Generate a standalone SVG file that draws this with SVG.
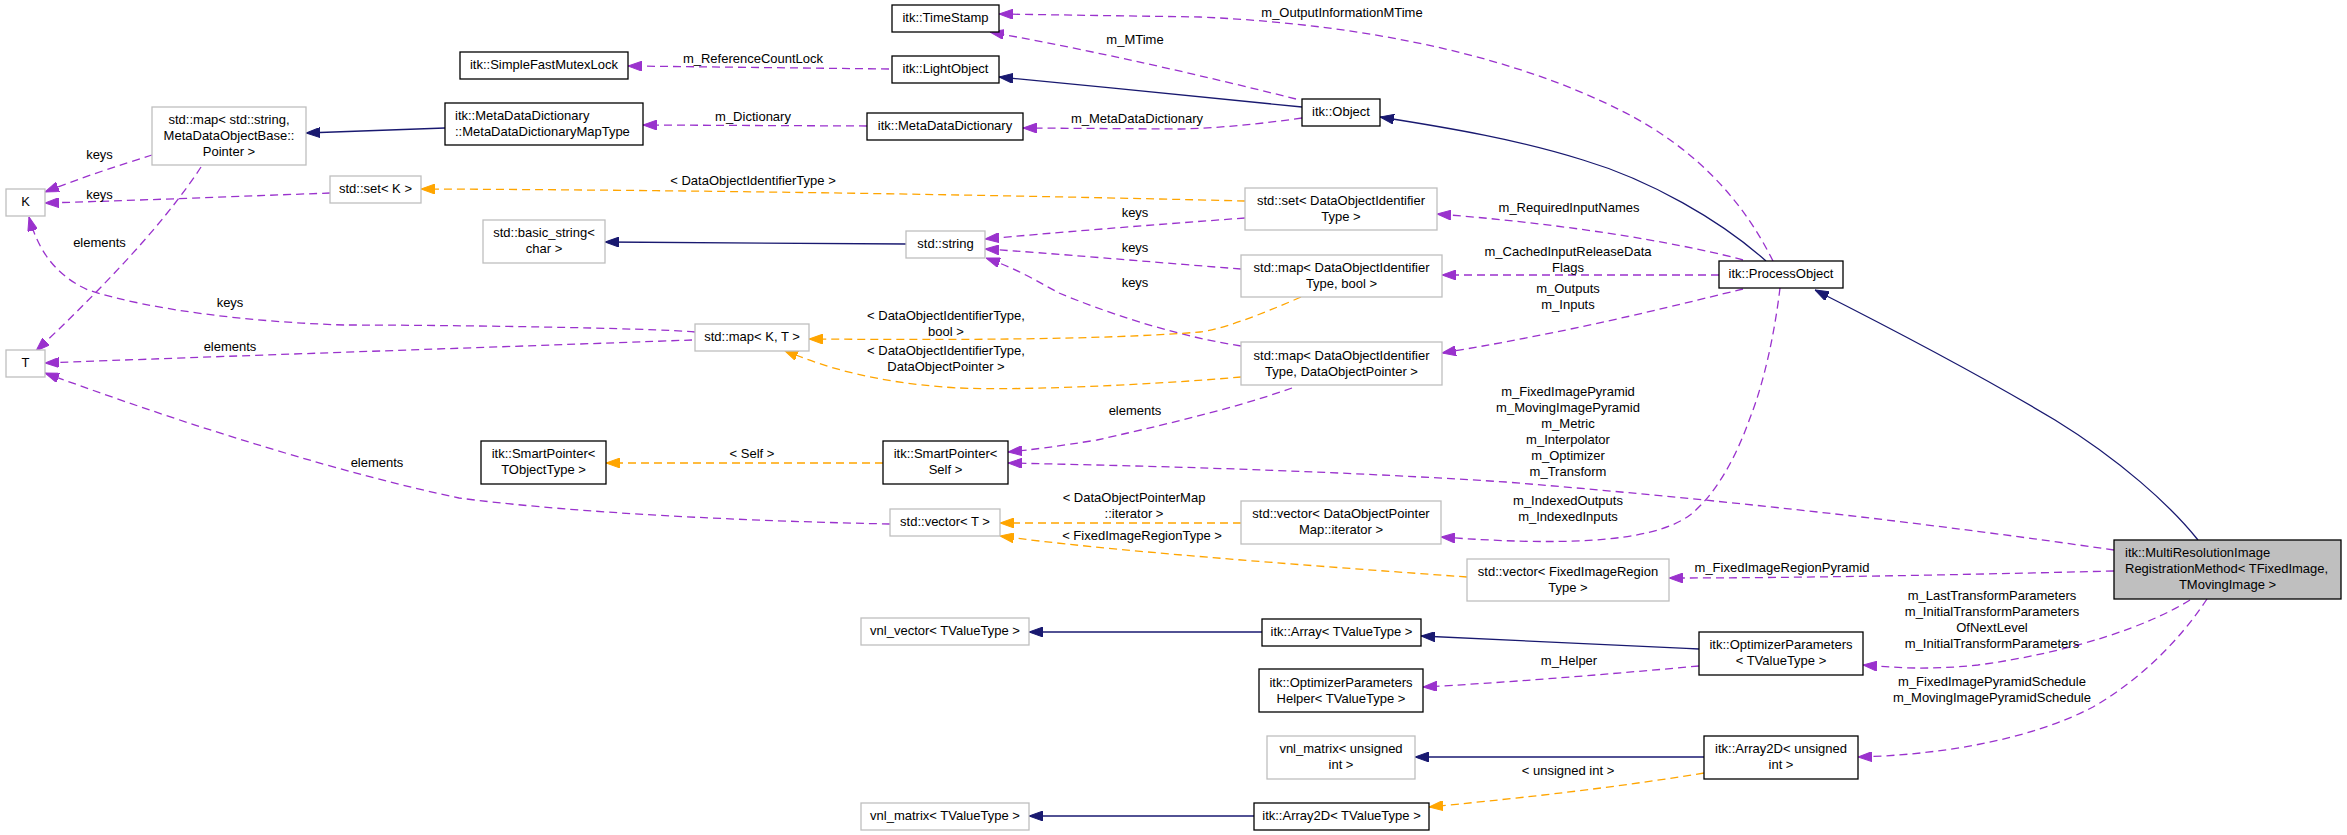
<svg xmlns="http://www.w3.org/2000/svg" width="2347" height="835" viewBox="0 0 2347 835">
<style>
text{font-family:"Liberation Sans",Arial,sans-serif;font-size:13px;fill:#000}
.c{text-anchor:middle}
.nb{fill:#fff;stroke:#000;stroke-width:1.3}
.ng{fill:#fff;stroke:#bfbfbf;stroke-width:1.3}
.nm{fill:#bfbfbf;stroke:#000;stroke-width:1.3}
.u{fill:none;stroke:#9a32cd;stroke-width:1.3;stroke-dasharray:8,5;marker-end:url(#ap)}
.t{fill:none;stroke:#ffa500;stroke-width:1.3;stroke-dasharray:8,5;marker-end:url(#ao)}
.i{fill:none;stroke:#191970;stroke-width:1.3;marker-end:url(#an)}
</style>
<defs>
<marker id="ap" markerUnits="userSpaceOnUse" viewBox="0 0 14 10" refX="14" refY="5" markerWidth="14" markerHeight="10" orient="auto"><path d="M0,0 L14,5 L0,10 z" fill="#9a32cd" stroke="#9a32cd" stroke-dasharray="none"/></marker>
<marker id="ao" markerUnits="userSpaceOnUse" viewBox="0 0 14 10" refX="14" refY="5" markerWidth="14" markerHeight="10" orient="auto"><path d="M0,0 L14,5 L0,10 z" fill="#ffa500" stroke="#ffa500" stroke-dasharray="none"/></marker>
<marker id="an" markerUnits="userSpaceOnUse" viewBox="0 0 14 10" refX="14" refY="5" markerWidth="14" markerHeight="10" orient="auto"><path d="M0,0 L14,5 L0,10 z" fill="#191970" stroke="#191970"/></marker>
</defs>
<rect width="2347" height="835" fill="#fff"/>
<g id="connectors">
<path class="u" d="M889,69 L628,66"/>
<text class="c" x="753" y="63">m_ReferenceCountLock</text>
<path class="u" d="M1296,99 C1200,75 1100,52 990,32"/>
<text class="c" x="1135" y="44">m_MTime</text>
<path class="u" d="M1773,261 C1745,205 1700,150 1620,110 C1520,60 1380,25 1200,17 L999,14"/>
<text class="c" x="1342" y="17">m_OutputInformationMTime</text>
<path class="i" d="M1302,107 C1250,101 1100,87 999,77"/>
<path class="u" d="M1302,118 C1260,124 1220,128 1180,129 L1023,128"/>
<text class="c" x="1137" y="123">m_MetaDataDictionary</text>
<path class="u" d="M867,126 L643,125"/>
<text class="c" x="753" y="121">m_Dictionary</text>
<path class="i" d="M445,128 L306,133"/>
<path class="u" d="M152,155 C120,165 80,178 45,192"/>
<text class="c" x="99.5" y="159">keys</text>
<path class="u" d="M330,193 C250,196 120,201 45,203"/>
<text class="c" x="99.5" y="199">keys</text>
<path class="u" d="M201,167 C160,230 90,300 36,351"/>
<text class="c" x="99.5" y="247">elements</text>
<path class="u" d="M695,332 C650,328 450,325 344,325 C250,322 150,310 88,290 C55,275 38,250 29,217"/>
<text class="c" x="230" y="307">keys</text>
<path class="u" d="M692,340 C500,347 200,357 45,363"/>
<text class="c" x="230" y="351">elements</text>
<path class="u" d="M890,524 C700,520 550,510 459,498 C350,475 200,430 45,373"/>
<text class="c" x="377" y="467">elements</text>
<path class="t" d="M883,463 L606,463"/>
<text class="c" x="752" y="458">&lt; Self &gt;</text>
<path class="t" d="M1245,201 C1000,195 700,190 421,189"/>
<text class="c" x="753" y="185">&lt; DataObjectIdentifierType &gt;</text>
<path class="u" d="M1245,218 C1150,225 1050,233 985,239"/>
<text class="c" x="1135" y="217">keys</text>
<path class="u" d="M1241,269 C1150,262 1050,253 985,249"/>
<text class="c" x="1135" y="252">keys</text>
<path class="u" d="M1241,346 C1170,335 1100,310 1059,293 C1040,283 1020,270 986,258"/>
<text class="c" x="1135" y="287">keys</text>
<path class="t" d="M1301,297 C1260,315 1220,330 1200,332 C1100,340 950,340 809,339"/>
<text class="c" x="946" y="320">&lt; DataObjectIdentifierType,</text>
<text class="c" x="946" y="336">bool &gt;</text>
<path class="t" d="M1241,377 C1150,385 1000,392 944,387 C880,382 830,370 784,350"/>
<text class="c" x="946" y="355">&lt; DataObjectIdentifierType,</text>
<text class="c" x="946" y="371">DataObjectPointer &gt;</text>
<path class="u" d="M1292,388 C1230,410 1150,428 1097,440 C1060,446 1030,450 1008,452"/>
<text class="c" x="1135" y="415">elements</text>
<path class="u" d="M1743,260 C1697,247 1583,225 1437,214"/>
<text class="c" x="1569" y="212">m_RequiredInputNames</text>
<path class="u" d="M1719,275 L1442,275"/>
<text class="c" x="1568" y="256">m_CachedInputReleaseData</text>
<text class="c" x="1568" y="272">Flags</text>
<path class="u" d="M1743,289 C1697,300 1583,330 1442,353"/>
<text class="c" x="1568" y="293">m_Outputs</text>
<text class="c" x="1568" y="309">m_Inputs</text>
<path class="i" d="M1766,261 C1720,220 1650,180 1583,160 C1520,140 1450,128 1380,117"/>
<path class="i" d="M2198,540 C2170,505 2120,460 2055,420 C1980,375 1900,333 1815,290"/>
<path class="u" d="M1780,288 C1775,330 1765,380 1750,418 C1735,460 1715,495 1690,515 C1650,545 1550,545 1441,537"/>
<text class="c" x="1568" y="505">m_IndexedOutputs</text>
<text class="c" x="1568" y="521">m_IndexedInputs</text>
<path class="u" d="M2114,550 C1940,525 1750,502 1506,482 C1350,472 1200,467 1008,463"/>
<text class="c" x="1568" y="396">m_FixedImagePyramid</text>
<text class="c" x="1568" y="412">m_MovingImagePyramid</text>
<text class="c" x="1568" y="428">m_Metric</text>
<text class="c" x="1568" y="444">m_Interpolator</text>
<text class="c" x="1568" y="460">m_Optimizer</text>
<text class="c" x="1568" y="476">m_Transform</text>
<path class="t" d="M1241,523 L1000,523"/>
<text class="c" x="1134" y="502">&lt; DataObjectPointerMap</text>
<text class="c" x="1134" y="518">::iterator &gt;</text>
<path class="t" d="M1467,577 C1300,565 1100,550 1000,536"/>
<text class="c" x="1142" y="540">&lt; FixedImageRegionType &gt;</text>
<path class="u" d="M2114,571 C1950,575 1800,578 1669,578"/>
<text class="c" x="1782" y="572">m_FixedImageRegionPyramid</text>
<path class="i" d="M1699,649 C1600,644 1500,640 1421,636"/>
<path class="i" d="M1262,632 L1029,632"/>
<path class="u" d="M1699,666 C1600,675 1500,683 1423,687"/>
<text class="c" x="1569" y="665">m_Helper</text>
<path class="u" d="M2190,600 C2150,625 2074,652 1978,665 C1930,670 1900,668 1863,665"/>
<text class="c" x="1992" y="600">m_LastTransformParameters</text>
<text class="c" x="1992" y="616">m_InitialTransformParameters</text>
<text class="c" x="1992" y="632">OfNextLevel</text>
<text class="c" x="1992" y="648">m_InitialTransformParameters</text>
<path class="u" d="M2207,599 C2180,640 2140,680 2093,707 C2030,740 1940,755 1858,757"/>
<text class="c" x="1992" y="686">m_FixedImagePyramidSchedule</text>
<text class="c" x="1992" y="702">m_MovingImagePyramidSchedule</text>
<path class="i" d="M1704,757 L1415,757"/>
<path class="t" d="M1704,773 C1600,790 1500,800 1429,807"/>
<text class="c" x="1568" y="775">&lt; unsigned int &gt;</text>
<path class="i" d="M1254,816 L1029,816"/>
<path class="i" d="M906,244 L605,242"/>
</g>
<g id="n_mr"><rect class="nm" x="2114" y="540" width="227" height="59"/><text x="2125" y="557">itk::MultiResolutionImage</text><text x="2125" y="573">RegistrationMethod&lt; TFixedImage,</text><text class="c" x="2227.5" y="589">TMovingImage &gt;</text></g>
<g id="n_po"><rect class="nb" x="1719" y="261" width="124" height="27"/><text class="c" x="1781" y="278">itk::ProcessObject</text></g>
<g id="n_obj"><rect class="nb" x="1302" y="99" width="78" height="27"/><text class="c" x="1341" y="116">itk::Object</text></g>
<g id="n_lo"><rect class="nb" x="892" y="56" width="107" height="27"/><text class="c" x="945.5" y="73">itk::LightObject</text></g>
<g id="n_ts"><rect class="nb" x="892" y="5" width="107" height="27"/><text class="c" x="945.5" y="22">itk::TimeStamp</text></g>
<g id="n_sfml"><rect class="nb" x="460" y="52" width="168" height="27"/><text class="c" x="544" y="69">itk::SimpleFastMutexLock</text></g>
<g id="n_mdd"><rect class="nb" x="867" y="113" width="156" height="27"/><text class="c" x="945" y="130">itk::MetaDataDictionary</text></g>
<g id="n_mddmt"><rect class="nb" x="445" y="103" width="198" height="42"/><text x="455" y="120">itk::MetaDataDictionary</text><text x="455" y="136">::MetaDataDictionaryMapType</text></g>
<g id="n_mapstr"><rect class="ng" x="152" y="107" width="154" height="58"/><text class="c" x="229" y="124">std::map&lt; std::string,</text><text class="c" x="229" y="140">MetaDataObjectBase::</text><text class="c" x="229" y="156">Pointer &gt;</text></g>
<g id="n_K"><rect class="ng" x="6" y="189" width="39" height="27"/><text class="c" x="25.5" y="206">K</text></g>
<g id="n_T"><rect class="ng" x="6" y="350" width="39" height="27"/><text class="c" x="25.5" y="367">T</text></g>
<g id="n_setK"><rect class="ng" x="330" y="176" width="91" height="27"/><text class="c" x="375.5" y="193">std::set&lt; K &gt;</text></g>
<g id="n_bstr"><rect class="ng" x="483" y="220" width="122" height="43"/><text class="c" x="544" y="237">std::basic_string&lt;</text><text class="c" x="544" y="253">char &gt;</text></g>
<g id="n_str"><rect class="ng" x="906" y="231" width="79" height="27"/><text class="c" x="945.5" y="248">std::string</text></g>
<g id="n_mapKT"><rect class="ng" x="695" y="324" width="114" height="27"/><text class="c" x="752" y="341">std::map&lt; K, T &gt;</text></g>
<g id="n_setDOIT"><rect class="ng" x="1245" y="188" width="192" height="42"/><text class="c" x="1341" y="205">std::set&lt; DataObjectIdentifier</text><text class="c" x="1341" y="221">Type &gt;</text></g>
<g id="n_mapbool"><rect class="ng" x="1241" y="255" width="201" height="42"/><text class="c" x="1341.5" y="272">std::map&lt; DataObjectIdentifier</text><text class="c" x="1341.5" y="288">Type, bool &gt;</text></g>
<g id="n_mapdop"><rect class="ng" x="1241" y="342" width="201" height="43"/><text class="c" x="1341.5" y="360">std::map&lt; DataObjectIdentifier</text><text class="c" x="1341.5" y="376">Type, DataObjectPointer &gt;</text></g>
<g id="n_spT"><rect class="nb" x="481" y="441" width="125" height="43"/><text class="c" x="543.5" y="458">itk::SmartPointer&lt;</text><text class="c" x="543.5" y="474">TObjectType &gt;</text></g>
<g id="n_spS"><rect class="nb" x="883" y="441" width="125" height="43"/><text class="c" x="945.5" y="458">itk::SmartPointer&lt;</text><text class="c" x="945.5" y="474">Self &gt;</text></g>
<g id="n_vecT"><rect class="ng" x="890" y="509" width="110" height="27"/><text class="c" x="945" y="526">std::vector&lt; T &gt;</text></g>
<g id="n_vecdop"><rect class="ng" x="1241" y="501" width="200" height="43"/><text class="c" x="1341" y="518">std::vector&lt; DataObjectPointer</text><text class="c" x="1341" y="534">Map::iterator &gt;</text></g>
<g id="n_vecfir"><rect class="ng" x="1467" y="559" width="202" height="42"/><text class="c" x="1568" y="576">std::vector&lt; FixedImageRegion</text><text class="c" x="1568" y="592">Type &gt;</text></g>
<g id="n_vnlvec"><rect class="ng" x="861" y="618" width="168" height="27"/><text class="c" x="945" y="635">vnl_vector&lt; TValueType &gt;</text></g>
<g id="n_arr"><rect class="nb" x="1262" y="619" width="159" height="27"/><text class="c" x="1341.5" y="636">itk::Array&lt; TValueType &gt;</text></g>
<g id="n_op"><rect class="nb" x="1699" y="632" width="164" height="43"/><text class="c" x="1781" y="649">itk::OptimizerParameters</text><text class="c" x="1781" y="665">&lt; TValueType &gt;</text></g>
<g id="n_oph"><rect class="nb" x="1259" y="669" width="164" height="43"/><text class="c" x="1341" y="687">itk::OptimizerParameters</text><text class="c" x="1341" y="703">Helper&lt; TValueType &gt;</text></g>
<g id="n_vnlmu"><rect class="ng" x="1267" y="736" width="148" height="43"/><text class="c" x="1341" y="753">vnl_matrix&lt; unsigned</text><text class="c" x="1341" y="769">int &gt;</text></g>
<g id="n_a2du"><rect class="nb" x="1704" y="736" width="154" height="43"/><text class="c" x="1781" y="753">itk::Array2D&lt; unsigned</text><text class="c" x="1781" y="769">int &gt;</text></g>
<g id="n_a2dt"><rect class="nb" x="1254" y="803" width="175" height="27"/><text class="c" x="1341.5" y="820">itk::Array2D&lt; TValueType &gt;</text></g>
<g id="n_vnlmt"><rect class="ng" x="861" y="803" width="168" height="27"/><text class="c" x="945" y="820">vnl_matrix&lt; TValueType &gt;</text></g>
</svg>
